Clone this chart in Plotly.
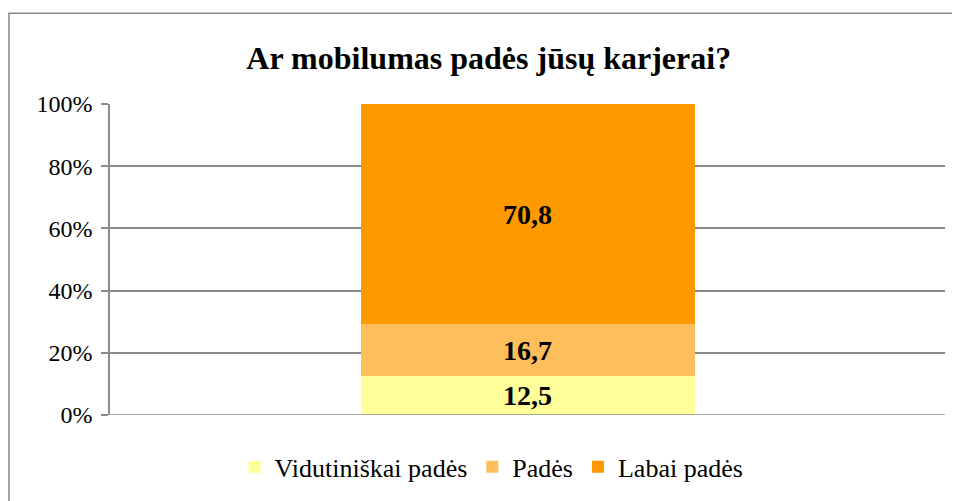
import plotly.graph_objects as go

# ============================================================
# Data
# ============================================================

category = [""]
series_names = ["Vidutiniškai padės", "Padės", "Labai padės"]
series_values = [12.5, 16.7, 70.8]
series_colors = ["#FFFF99", "#FFBE5C", "#FF9900"]

tick_values = [0, 20, 40, 60, 80, 100]
tick_labels = ["0%", "20%", "40%", "60%", "80%", "100%"]

FONT = "Liberation Serif"
GRID = "#8C8C8C"

# ============================================================
# Stacked bar
# ============================================================

fig = go.Figure()

for name, value, color in zip(series_names, series_values, series_colors):
    fig.add_trace(
        go.Bar(
            x=category,
            y=[value],
            name=name,
            marker=dict(color=color, line=dict(width=0)),
            text=[f"{value:.1f}".replace(".", ",")],
            textposition="inside",
            insidetextanchor="middle",
            textangle=0,
            textfont=dict(family=FONT, size=28, color="black", weight="bold"),
        )
    )

# page body adds ~8px offset, so the figure is a bit smaller than the window
fig.update_layout(
    barmode="stack",
    bargap=0.6,
    width=952,
    height=493,
    paper_bgcolor="white",
    plot_bgcolor="white",
    margin=dict(l=102, r=15, t=96, b=85),
    font=dict(family=FONT, size=24, color="black"),
    title=dict(
        text="<b>Ar mobilumas padės jūsų karjerai?</b>",
        x=0.505,
        xanchor="center",
        y=0.90,
        yanchor="middle",
        font=dict(family=FONT, size=32, color="black"),
    ),
    showlegend=True,
    legend=dict(
        orientation="h",
        x=0.457,
        xanchor="center",
        y=-0.163,
        yanchor="middle",
        font=dict(family=FONT, size=26, color="black"),
        traceorder="normal",
        itemwidth=30,
    ),
    uniformtext=dict(minsize=10, mode="show"),
)

fig.update_yaxes(
    range=[0, 100],
    tickvals=tick_values,
    ticktext=tick_labels,
    showgrid=True,
    gridcolor=GRID,
    gridwidth=1.5,
    showline=True,
    linecolor=GRID,
    linewidth=1.5,
    ticks="outside",
    ticklen=7,
    tickcolor=GRID,
    tickwidth=1.5,
    zeroline=False,
    ticklabelstandoff=4,
)

fig.update_xaxes(
    showticklabels=False,
    showgrid=False,
    showline=False,
    zeroline=False,
)

# bottom baseline and outer chart frame
fig.add_shape(type="line", xref="paper", yref="y", x0=0, x1=1, y0=0, y1=0,
              line=dict(color=GRID, width=1.5), layer="above")
fig.add_shape(type="rect", xref="paper", yref="paper",
              x0=-0.121, x1=1.2, y0=-0.6, y1=1.292,
              line=dict(color="#8A8A8A", width=1.5), layer="above")

fig.write_html("out.html")
